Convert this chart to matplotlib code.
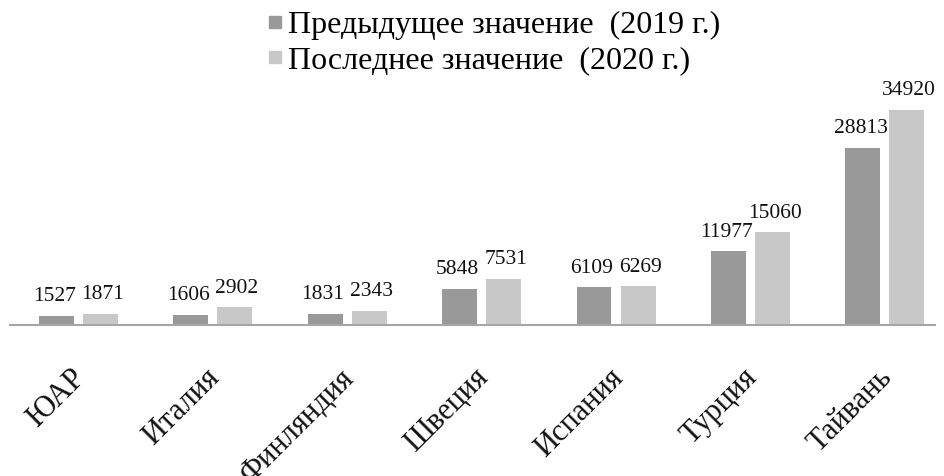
import matplotlib
matplotlib.use("Agg")
import matplotlib.pyplot as plt
from matplotlib.lines import Line2D
import numpy as np

countries = ["ЮАР", "Италия", "Финляндия", "Швеция", "Испания", "Турция", "Тайвань"]
prev_2019 = [1527, 1606, 1831, 5848, 6109, 11977, 28813]
last_2020 = [1871, 2902, 2343, 7531, 6269, 15060, 34920]
labels = ["Предыдущее значение  (2019 г.)", "Последнее значение  (2020 г.)"]

dark = "#999999"
light = "#c8c8c8"

plt.rcParams['font.family'] = ['Liberation Serif', 'DejaVu Serif']

fig = plt.figure(figsize=(9.45, 4.76), dpi=100)
ax = fig.add_axes([0.011, 0.317, 0.978, 0.494])

x = np.arange(len(countries))
w = 0.26
off = 0.164
b1 = ax.bar(x - off, prev_2019, w, color=dark)
b2 = ax.bar(x + off, last_2020, w, color=light)

# value labels, pushed slightly apart so neighbours don't touch
for bars, vals, dx in ((b1, prev_2019, -1.5), (b2, last_2020, 1.5)):
    for r, v in zip(bars, vals):
        ax.annotate(str(v), (r.get_x() + r.get_width() / 2, r.get_height()),
                    xytext=(dx, 7), textcoords="offset points",
                    ha="center", va="bottom", fontsize=15.5, color="#111111")

ax.set_xlim(-0.506, 6.37)
ax.set_ylim(0, 38170)
ax.set_yticks([])
for s in ("top", "right", "left"):
    ax.spines[s].set_visible(False)
ax.spines["bottom"].set_color("#a6a6a6")
ax.spines["bottom"].set_linewidth(1.5)

ax.set_xticks(x)
ax.set_xticklabels(countries, rotation=45, ha="right", va="center_baseline",
                   rotation_mode="anchor", fontsize=22, color="#111111")
ax.tick_params(axis="x", length=0, pad=33)

handles = [Line2D([], [], marker="s", linestyle="", color=dark, markersize=9),
           Line2D([], [], marker="s", linestyle="", color=light, markersize=9)]
fig.legend(handles, labels, loc="upper center", bbox_to_anchor=(0.522, 1.025),
           frameon=False, fontsize=23, handlelength=0.5, handletextpad=0.15,
           labelspacing=0.2, borderpad=0.2)

fig.savefig("out.png", dpi=100)
